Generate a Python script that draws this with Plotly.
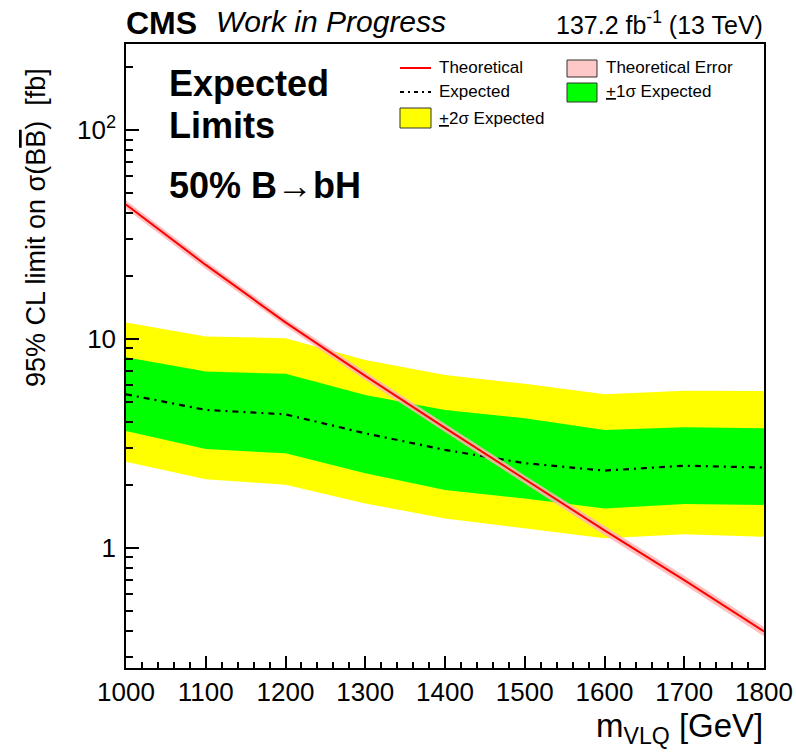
import plotly.graph_objects as go

# ---------------- data ----------------
mass = [1000, 1100, 1200, 1300, 1400, 1500, 1600, 1700, 1800]
theory = [44.0, 22.6, 12.0, 6.65, 3.75, 2.12, 1.21, 0.70, 0.397]
theory_up = [46.0, 23.6, 12.5, 6.95, 3.92, 2.22, 1.27, 0.735, 0.417]
theory_down = [42.0, 21.6, 11.5, 6.35, 3.58, 2.02, 1.15, 0.665, 0.377]
expected = [5.43, 4.57, 4.35, 3.53, 2.94, 2.54, 2.34, 2.47, 2.42]
exp_1s_up = [8.17, 6.98, 6.80, 5.39, 4.57, 4.17, 3.66, 3.77, 3.73]
exp_1s_down = [3.62, 2.97, 2.83, 2.27, 1.89, 1.72, 1.54, 1.62, 1.60]
exp_2s_up = [11.98, 10.26, 10.07, 7.93, 6.72, 6.09, 5.43, 5.65, 5.63]
exp_2s_down = [2.58, 2.13, 2.00, 1.63, 1.38, 1.24, 1.11, 1.16, 1.13]

x_ticks = [1000, 1100, 1200, 1300, 1400, 1500, 1600, 1700, 1800]
x_minor = [v for v in range(1000, 1801, 20) if v % 100 != 0]
y_ticks = [1, 10, 100]
y_ticktext = ["1", "10", "10<sup>2</sup>"]
y_minor = [0.3, 0.4, 0.5, 0.6, 0.7, 0.8, 0.9, 2, 3, 4, 5, 6, 7, 8, 9,
           20, 30, 40, 50, 60, 70, 80, 90, 200]

FONT = "Liberation Sans, Arial, sans-serif"
W, H = 796, 755
L, R, T, B = 126, 32, 44, 87
PW, PH = W - L - R, H - T - B


def px(xp):
    return (xp - L) / PW


def py(yp):
    return (H - B - yp) / PH


fig = go.Figure()

# 2 sigma band
fig.add_trace(go.Scatter(x=mass, y=exp_2s_down, mode="lines",
                         line=dict(width=0, color="#ffff00"), showlegend=False,
                         hoverinfo="skip"))
fig.add_trace(go.Scatter(x=mass, y=exp_2s_up, mode="lines", fill="tonexty",
                         fillcolor="#ffff00", line=dict(width=0, color="#ffff00"),
                         showlegend=False))
# 1 sigma band
fig.add_trace(go.Scatter(x=mass, y=exp_1s_down, mode="lines",
                         line=dict(width=0, color="#00ff00"), showlegend=False,
                         hoverinfo="skip"))
fig.add_trace(go.Scatter(x=mass, y=exp_1s_up, mode="lines", fill="tonexty",
                         fillcolor="#00ff00", line=dict(width=0, color="#00ff00"),
                         showlegend=False))
# expected
fig.add_trace(go.Scatter(x=mass, y=expected, mode="lines",
                         line=dict(width=2.2, color="black", dash="6px,5px,2px,5px"),
                         showlegend=False))
# theory error band
fig.add_trace(go.Scatter(x=mass, y=theory_down, mode="lines",
                         line=dict(width=0, color="#ffc0c0"), showlegend=False,
                         hoverinfo="skip"))
fig.add_trace(go.Scatter(x=mass, y=theory_up, mode="lines", fill="tonexty",
                         fillcolor="rgba(255,180,180,0.85)",
                         line=dict(width=0, color="#ffc0c0"), showlegend=False))
# theory
fig.add_trace(go.Scatter(x=mass, y=theory, mode="lines",
                         line=dict(width=2, color="#ff0000"), showlegend=False))

fig.update_xaxes(
    range=[1000, 1800], tickmode="array", tickvals=x_ticks,
    ticks="inside", ticklen=12, tickwidth=1.5, tickcolor="black",
    showline=True, linecolor="black", linewidth=1.5, mirror=True,
    showgrid=False, zeroline=False,
    tickfont=dict(family=FONT, size=26, color="black"),
    ticklabelstandoff=0,
    minor=dict(tickmode="array", tickvals=x_minor, ticks="inside", ticklen=6,
               tickwidth=1.5, tickcolor="black", showgrid=False),
)
fig.update_yaxes(
    type="log", range=[-0.576, 2.412], tickmode="array", tickvals=y_ticks,
    ticktext=y_ticktext,
    ticks="inside", ticklen=13, tickwidth=1.5, tickcolor="black",
    showline=True, linecolor="black", linewidth=1.5, mirror=True,
    showgrid=False, zeroline=False,
    tickfont=dict(family=FONT, size=26, color="black"),
    ticklabelstandoff=3,
    minor=dict(tickmode="array", tickvals=y_minor, ticks="inside", ticklen=7,
               tickwidth=1.5, tickcolor="black", showgrid=False),
)

ann = []


def text(xp, yp, s, size, xanchor="left", yanchor="middle", bold=False,
         italic=False, angle=0):
    if bold:
        s = "<b>" + s + "</b>"
    if italic:
        s = "<i>" + s + "</i>"
    ann.append(dict(x=px(xp), y=py(yp), xref="paper", yref="paper", text=s,
                    showarrow=False, xanchor=xanchor, yanchor=yanchor,
                    textangle=angle,
                    font=dict(family=FONT, size=size, color="black")))


# header
text(124, 23, "CMS", 32, bold=True)
text(214, 22, "Work in Progress", 30, italic=True)
text(765, 23, "137.2 fb<sup>-1</sup> (13 TeV)", 25, xanchor="right")

# in-plot labels
text(167, 83, "Expected", 36, bold=True)
text(167, 126, "Limits", 36, bold=True)
text(167, 186, "50% B\u2192bH", 36, bold=True)

# axis titles
text(765, 728, "m<sub>VLQ</sub> [GeV]", 33, xanchor="right")
ann.append(dict(x=px(36), y=py(228), xref="paper", yref="paper",
                text="95% CL limit on \u03c3(B<span style='text-decoration:overline'>B</span>)  [fb]",
                showarrow=False, textangle=-90, xanchor="center", yanchor="middle",
                font=dict(family=FONT, size=27, color="black")))

# legend
LF = 17
shapes = []
# row 1
shapes.append(dict(type="line", xref="paper", yref="paper", x0=px(400), x1=px(431),
                   y0=py(68), y1=py(68), line=dict(color="#ff0000", width=2)))
text(437, 68, "Theoretical", LF)
shapes.append(dict(type="rect", xref="paper", yref="paper", x0=px(567), x1=px(597),
                   y0=py(60), y1=py(77), fillcolor="#ffc8c8",
                   line=dict(color="#333333", width=1)))
text(604, 68, "Theoretical Error", LF)
# row 2
shapes.append(dict(type="line", xref="paper", yref="paper", x0=px(400), x1=px(431),
                   y0=py(92), y1=py(92),
                   line=dict(color="black", width=2, dash="4px,4px,2px,4px")))
text(437, 92, "Expected", LF)
shapes.append(dict(type="rect", xref="paper", yref="paper", x0=px(567), x1=px(597),
                   y0=py(83), y1=py(102), fillcolor="#00ff00",
                   line=dict(color="#333333", width=1)))
text(604, 92, "<u>+</u>1\u03c3 Expected", LF)
# row 3
shapes.append(dict(type="rect", xref="paper", yref="paper", x0=px(400), x1=px(431),
                   y0=py(108), y1=py(128), fillcolor="#ffff00",
                   line=dict(color="#333333", width=1)))
text(437, 118, "<u>+</u>2\u03c3 Expected", LF)

fig.update_layout(
    width=W, height=H, margin=dict(l=L, r=R, t=T, b=B, autoexpand=False),
    paper_bgcolor="white", plot_bgcolor="white",
    showlegend=False, annotations=ann, shapes=shapes,
    font=dict(family=FONT, color="black"),
)

fig.write_html("out.html", config={"displayModeBar": False},
               post_script="document.body.style.margin='0px';document.body.style.overflow='hidden';")
